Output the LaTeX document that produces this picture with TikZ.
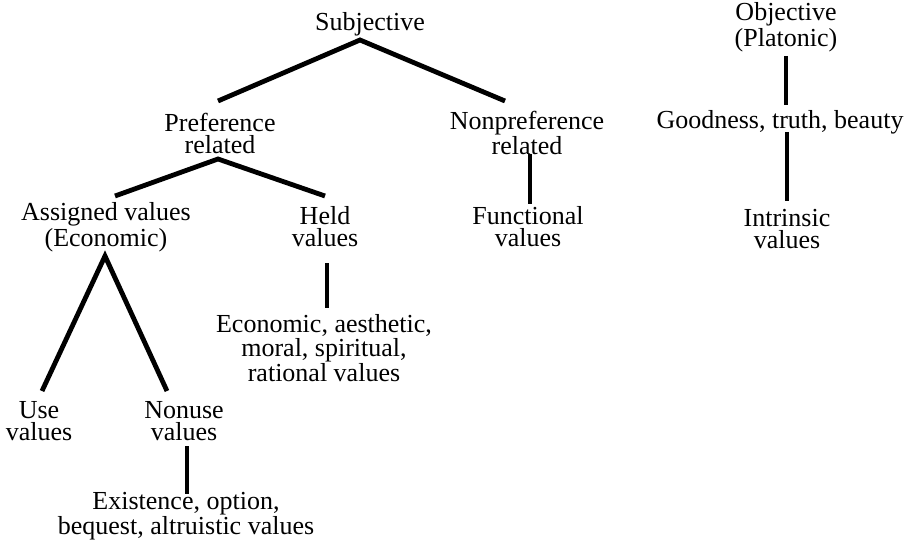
\documentclass[tikz,border=0pt]{standalone}
\usepackage{fontspec}
\setmainfont{Liberation Serif}
\usetikzlibrary{calc}

\begin{document}
\begin{tikzpicture}[x=0.5pt,y=-0.5pt,
  every node/.style={font=\fontsize{13}{11}\selectfont,align=center,inner sep=0pt},
  link/.style={line width=2.4pt,line join=miter}]
\useasboundingbox (0,0) rectangle (914,545);
\node (subj) at (370,24) {Subjective};
\node (pref) at (220,133) {Preference\\related};
\node (nonpref) at (527,133) {Nonpreference\\related};
\node (assigned) at (106,227) {Assigned values\\(Economic)};
\node (held) at (325,227) {Held\\values};
\node (func) at (528,227) {Functional\\values};
\node (econ) at (324,348) {Economic, aesthetic,\\moral, spiritual,\\rational values};
\node (use) at (39,421) {Use\\values};
\node (nonuse) at (184,421) {Nonuse\\values};
\node (exist) at (186,516) {Existence, option,\\bequest, altruistic values};
\node (obj) at (786,27) {Objective\\(Platonic)};
\node (good) at (780,122) {Goodness, truth, beauty};
\node (intr) at (787,229) {Intrinsic\\values};
\draw[link] ($(pref)+(-2,-32)$) -- ($(subj)+(-10,16)$) -- ($(nonpref)+(-22,-32)$);
\draw[link] ($(assigned)+(9,-31)$) -- ($(pref)+(-2,26)$) -- ($(held)+(0,-31)$);
\draw[link] ($(nonpref)+(3,21)$) -- ($(func)+(2,-23)$);
\draw[link] ($(use)+(3,-30)$) -- ($(assigned)+(-1,29)$) -- ($(nonuse)+(-17,-30)$);
\draw[link] ($(held)+(2,36)$) -- ($(econ)+(3,-40)$);
\draw[link] ($(nonuse)+(3,25)$) -- ($(exist)+(1,-22)$);
\draw[link] ($(obj)+(0,29)$) -- ($(good)+(6,-17)$);
\draw[link] ($(good)+(7,10)$) -- ($(intr)+(0,-28)$);
\end{tikzpicture}
\end{document}
